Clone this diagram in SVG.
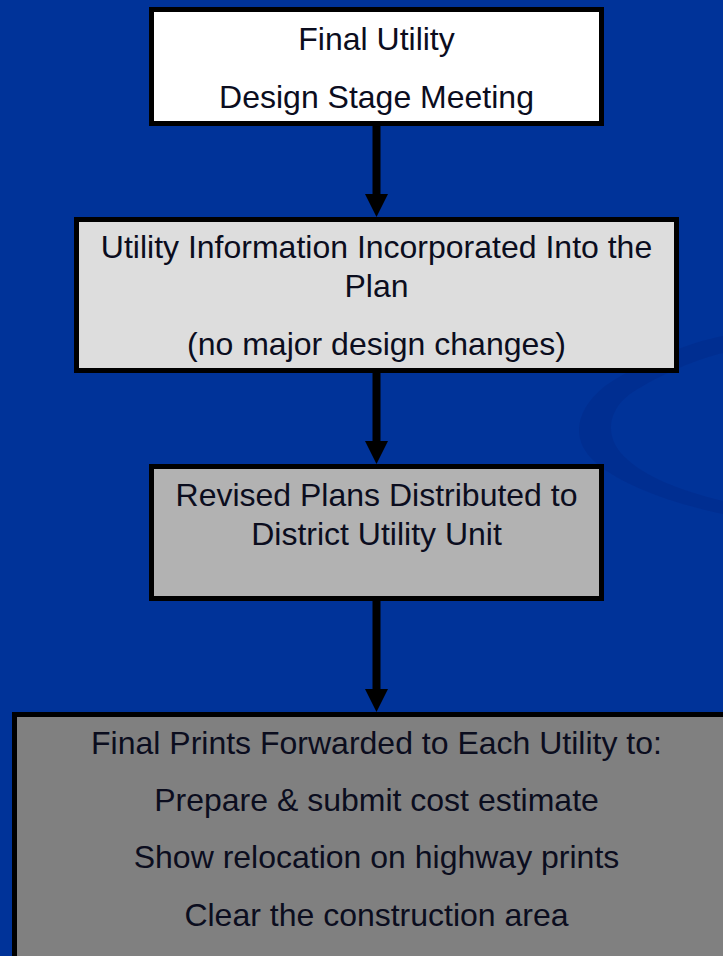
<svg xmlns="http://www.w3.org/2000/svg" width="723" height="956" viewBox="0 0 723 956">
  <defs>
    <style>
      .box { stroke: #000; stroke-width: 5; }
      .t { font-family: "Liberation Sans", Arial, sans-serif; font-size: 32px; fill: #0b0d1e; text-anchor: middle; }
      .conn line { stroke: #000; stroke-width: 8; }
      .conn path { fill: #000; }
    </style>
  </defs>
  <rect x="0" y="0" width="723" height="956" fill="#003399"/>
  <!-- background swoosh -->
  <path d="M723,336 C690,342 640,362 605,386 C575,410 570,440 595,462 C625,488 680,505 723,514 L723,501 C690,493 650,480 628,460 C604,440 606,412 630,394 C660,374 700,358 723,353 Z" fill="#002b8c" opacity="0.6"/>

  <g class="conn">
    <line x1="376.5" y1="126" x2="376.5" y2="200"/>
    <path d="M365,194 L388,194 L376.5,217 Z"/>
    <line x1="376.5" y1="373" x2="376.5" y2="447"/>
    <path d="M365,441 L388,441 L376.5,464 Z"/>
    <line x1="376.5" y1="601" x2="376.5" y2="695"/>
    <path d="M365,689 L388,689 L376.5,712 Z"/>
  </g>

  <g id="node1">
    <rect class="box" x="151.5" y="9.5" width="450" height="114" fill="#ffffff"/>
    <text class="t" x="376.5" y="50">Final Utility</text>
    <text class="t" x="376.5" y="108">Design Stage Meeting</text>
  </g>
  <g id="node2">
    <rect class="box" x="76.5" y="219.5" width="600" height="151" fill="#dddddd"/>
    <text class="t" x="376.5" y="258">Utility Information Incorporated Into the</text>
    <text class="t" x="376.5" y="297">Plan</text>
    <text class="t" x="376.5" y="355">(no major design changes)</text>
  </g>
  <g id="node3">
    <rect class="box" x="151.5" y="466.5" width="450" height="132" fill="#b2b2b2"/>
    <text class="t" x="376.5" y="506">Revised Plans Distributed to</text>
    <text class="t" x="376.5" y="545">District Utility Unit</text>
  </g>
  <g id="node4">
    <rect class="box" x="14.5" y="714.5" width="720" height="260" fill="#808080"/>
    <text class="t" x="376.5" y="754">Final Prints Forwarded to Each Utility to:</text>
    <text class="t" x="376.5" y="811">Prepare &amp; submit cost estimate</text>
    <text class="t" x="376.5" y="868">Show relocation on highway prints</text>
    <text class="t" x="376.5" y="926">Clear the construction area</text>
  </g>
</svg>
